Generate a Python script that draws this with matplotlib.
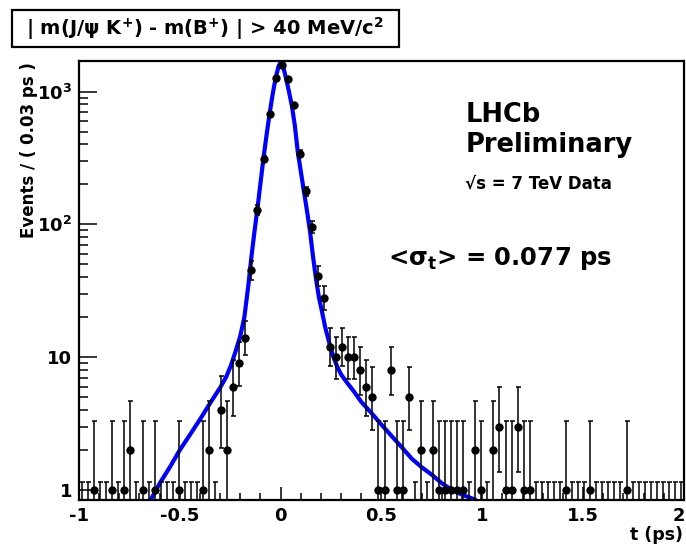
import math
import numpy as np
import matplotlib
matplotlib.use("Agg")
from matplotlib import pyplot as plt
from matplotlib.patches import Rectangle
from matplotlib.ticker import FixedLocator, NullFormatter
from matplotlib.transforms import ScaledTranslation

# decay time histogram, 100 bins of 0.03 ps from -1 to 2 ps
t_low, t_high = -1.0, 2.0
bin_width = 0.03
counts = [0, 0, 1, 0, 0, 1, 0, 1, 2, 0,
          1, 0, 1, 0, 0, 0, 1, 0, 0, 0,
          1, 2, 0, 4, 2, 6, 9, 14, 45, 128,
          311, 675, 1266, 1578, 1239, 793, 341, 178, 96, 41,
          28, 12, 10, 12, 10, 10, 8, 6, 5, 1,
          1, 8, 1, 1, 5, 0, 2, 0, 2, 1,
          1, 1, 1, 1, 0, 2, 1, 0, 2, 3,
          1, 1, 3, 1, 1, 0, 0, 0, 0, 0,
          1, 0, 0, 0, 1, 0, 0, 0, 0, 0,
          1, 0, 0, 0, 0, 0, 0, 0, 0, 0]

# fitted pdf
curve_t = [-0.645, -0.60, -0.55, -0.50, -0.45, -0.40, -0.35, -0.30, -0.27, -0.245,
           -0.22, -0.20, -0.18, -0.16, -0.145, -0.13, -0.115, -0.10, -0.085, -0.07,
           -0.055, -0.04, -0.025, -0.01, 0.0, 0.01, 0.025, 0.04, 0.055, 0.07,
           0.085, 0.10, 0.115, 0.13, 0.145, 0.16, 0.175, 0.19, 0.205, 0.22,
           0.24, 0.26, 0.28, 0.30, 0.33, 0.36, 0.40, 0.45, 0.50, 0.55,
           0.60, 0.65, 0.70, 0.75, 0.80, 0.85, 0.90, 0.97]
curve_y = [0.84, 1.12, 1.48, 2.0, 2.6, 3.4, 4.5, 5.9, 7.1, 8.8,
           11.5, 14.5, 20, 35, 57, 88, 132, 205, 318, 470,
           680, 950, 1265, 1560, 1660, 1600, 1290, 1020, 790, 560,
           350, 250, 178, 128, 90, 58, 39, 28, 22, 17,
           13, 10.2, 8.5, 7.4, 6.4, 5.6, 4.6, 3.8, 3.1, 2.55,
           2.1, 1.72, 1.48, 1.3, 1.12, 1.0, 0.92, 0.84]

x_ticks = [-1, -0.5, 0, 0.5, 1, 1.5, 2]
x_tick_labels = ["-1", "-0.5", "0", "0.5", "1", "1.5", "2"]
y_ticks = [1, 10, 100, 1000]
y_tick_labels = ["1", "10", r"$\mathbf{10^{2}}$", r"$\mathbf{10^{3}}$"]


def poisson_cdf(n, mu):
    k = np.arange(n + 1)
    lg = np.array([math.lgamma(i + 1) for i in k])
    return np.exp(k * math.log(mu) - mu - lg).sum()


def solve(n, target):
    # mu where P(X<=n; mu) == target
    lo, hi = 1e-9, n + 20 * math.sqrt(n + 1) + 10
    for _ in range(60):
        mid = 0.5 * (lo + hi)
        if poisson_cdf(n, mid) > target:
            lo = mid
        else:
            hi = mid
    return 0.5 * (lo + hi)


alpha = 0.158655
err_lo, err_hi = [], []
for n in counts:
    if n == 0:
        err_lo.append(0.0)
        err_hi.append(-math.log(2 * alpha))
    else:
        err_lo.append(n - solve(n - 1, 1 - alpha))
        err_hi.append(solve(n, alpha) - n)

centers = t_low + bin_width * (np.arange(len(counts)) + 0.5)

plt.rcParams["font.family"] = ["DejaVu Sans"]
plt.rcParams["font.weight"] = "bold"
plt.rcParams["mathtext.fontset"] = "dejavusans"
plt.rcParams["mathtext.default"] = "bf"

fig = plt.figure(figsize=(6.86, 5.46), dpi=100)
ax = fig.add_axes([79 / 686, 46 / 546, 605 / 686, 439 / 546])

ax.plot(curve_t, curve_y, color="#0000ff", lw=3, zorder=2, solid_capstyle="butt")
ax.errorbar(centers, counts, yerr=[err_lo, err_hi], fmt="o", color="black",
            ms=5, elinewidth=1.1, capsize=1.8, capthick=1.1, zorder=3)

ax.set_yscale("log")
ax.set_xlim(t_low, t_high)
ax.set_ylim(0.84, 1700)

ax.xaxis.set_major_locator(FixedLocator(x_ticks))
ax.xaxis.set_minor_locator(FixedLocator(np.arange(-0.9, 2.0, 0.1)))
ax.set_xticklabels(x_tick_labels)
ax.yaxis.set_major_locator(FixedLocator(y_ticks))
ax.set_yticklabels(y_tick_labels)
ax.yaxis.set_minor_locator(FixedLocator([m * 10 ** d for d in range(0, 4) for m in range(2, 10)]))
ax.yaxis.set_minor_formatter(NullFormatter())

ax.tick_params(axis="x", which="major", direction="in", length=9.4, width=1.1,
               labelsize=13, pad=5, top=False)
ax.tick_params(axis="x", which="minor", direction="in", length=4.8, width=1.1, top=False)
ax.tick_params(axis="y", which="major", direction="in", length=12.7, width=1.1,
               labelsize=13, pad=5, right=False)
ax.tick_params(axis="y", which="minor", direction="in", length=6.5, width=1.1, right=False)
for s in ax.spines.values():
    s.set_linewidth(1.6)

# last x label sits at the figure edge, nudge it in a bit
last = ax.get_xticklabels()[-1]
last.set_transform(last.get_transform() + ScaledTranslation(-0.05, 0, fig.dpi_scale_trans))

fig.text(29 / 686, 1 - 62 / 546, "Events / ( 0.03 ps )", rotation=90,
         ha="center", va="top", fontsize=12, fontweight="bold")
fig.text(683 / 686, 1 - 540 / 546, "t (ps)", ha="right", va="baseline",
         fontsize=12.5, fontweight="bold")

# cut label in a box
fig.patches.append(Rectangle((11.7 / 686, 1 - 46.7 / 546), 387.3 / 686, 36.7 / 546,
                             transform=fig.transFigure, fill=False, lw=1.6,
                             edgecolor="black"))
fig.text(205 / 686, 1 - 28.5 / 546,
         r"| m(J/$\psi$ K$^{+}$) - m(B$^{+}$) | > 40 MeV/c$^{2}$",
         ha="center", va="center", fontsize=14, fontweight="bold")

fig.text(466 / 686, 1 - 121.7 / 546, "LHCb", ha="left", va="baseline",
         fontsize=18.5, fontweight="bold")
fig.text(466 / 686, 1 - 151.7 / 546, "Preliminary", ha="left", va="baseline",
         fontsize=18.5, fontweight="bold")
fig.text(465 / 686, 1 - 188.3 / 546, "\u221as = 7 TeV Data", ha="left", va="baseline",
         fontsize=12, fontweight="bold")
fig.text(388 / 686, 1 - 265 / 546, r"<$\sigma_{t}$> = 0.077 ps", ha="left",
         va="baseline", fontsize=17.5, fontweight="bold")

fig.savefig("out.png", dpi=100)
